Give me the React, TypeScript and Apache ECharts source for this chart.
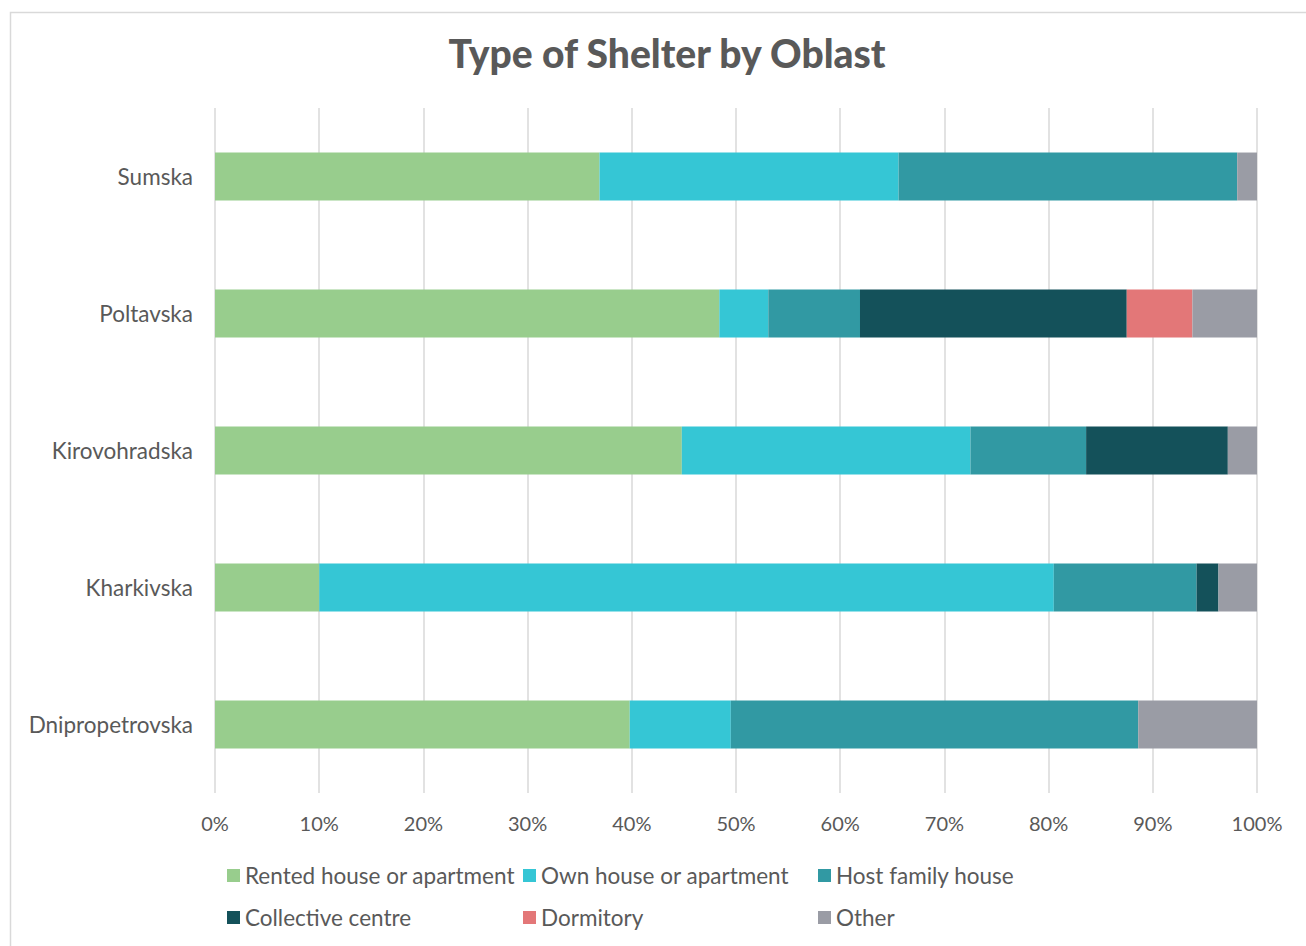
import React, { useEffect, useRef } from "react";
import * as echarts from "echarts";

const categories = ["Dnipropetrovska", "Kharkivska", "Kirovohradska", "Poltavska", "Sumska"];
const rented = [39.8, 10.0, 44.8, 48.4, 36.9];
const own = [9.7, 70.5, 27.7, 4.7, 28.7];
const host = [39.1, 13.7, 11.1, 8.8, 32.5];
const collective = [0, 2.1, 13.6, 25.6, 0];
const dormitory = [0, 0, 0, 6.3, 0];
const other = [11.4, 3.7, 2.8, 6.2, 1.9];
const xTicks = [0, 10, 20, 30, 40, 50, 60, 70, 80, 90, 100];

const seriesDefs = [
  { name: "Rented house or apartment", data: rented, color: "#98CD8D" },
  { name: "Own house or apartment", data: own, color: "#35C6D5" },
  { name: "Host family house", data: host, color: "#3199A3" },
  { name: "Collective centre", data: collective, color: "#14515A" },
  { name: "Dormitory", data: dormitory, color: "#E37778" },
  { name: "Other", data: other, color: "#9A9CA5" },
];

const FONT = "Lato, 'Open Sans', sans-serif";
const TXT = "#595959";

export default function App() {
  const ref = useRef<HTMLDivElement>(null);
  useEffect(() => {
    document.body.style.margin = "0";
    const chart = echarts.init(ref.current!, null, { renderer: "svg" });
    const legendCommon = {
      orient: "vertical" as const,
      itemWidth: 13,
      itemHeight: 13,
      itemGap: 19,
      icon: "rect",
      textStyle: { color: TXT, fontSize: 22.5, fontFamily: FONT },
      top: 859,
    };
    chart.setOption({
      animation: false,
      backgroundColor: "#fff",
      textStyle: { fontFamily: FONT },
      title: {
        text: "Type of Shelter by Oblast",
        left: 662,
        textAlign: "center",
        top: 28,
        textStyle: { fontSize: 39, fontWeight: 900, color: TXT, fontFamily: FONT },
      },
      graphic: [
        {
          type: "rect",
          shape: { x: 10.5, y: 12.5, width: 1400, height: 1000 },
          style: { fill: "none", stroke: "#d9d9d9", lineWidth: 1.5 },
          silent: true,
        },
      ],
      legend: [
        { ...legendCommon, left: 222, data: [seriesDefs[0].name, seriesDefs[3].name] },
        { ...legendCommon, left: 518, data: [seriesDefs[1].name, seriesDefs[4].name] },
        { ...legendCommon, left: 813, data: [seriesDefs[2].name, seriesDefs[5].name] },
      ],
      grid: { left: 215, right: 49, top: 108, bottom: 153, containLabel: false },
      xAxis: {
        type: "value",
        min: 0,
        max: 100,
        interval: 10,
        axisLine: { show: false },
        axisTick: { show: false },
        splitLine: { show: true, lineStyle: { color: "#d9d9d9", width: 1.5 } },
        axisLabel: {
          color: TXT,
          fontSize: 20,
          fontFamily: FONT,
          margin: 20,
          formatter: (v: number) => (xTicks.includes(v) ? v + "%" : ""),
        },
      },
      yAxis: {
        type: "category",
        data: categories,
        axisLine: { show: false },
        axisTick: { show: false },
        axisLabel: { color: TXT, fontSize: 22.5, fontFamily: FONT, margin: 22 },
      },
      series: seriesDefs.map((s) => ({
        name: s.name,
        type: "bar",
        stack: "total",
        barWidth: "35%",
        data: s.data,
        itemStyle: { color: s.color },
      })),
    });
    return () => chart.dispose();
  }, []);
  return <div ref={ref} style={{ width: 1306, height: 946 }} />;
}
